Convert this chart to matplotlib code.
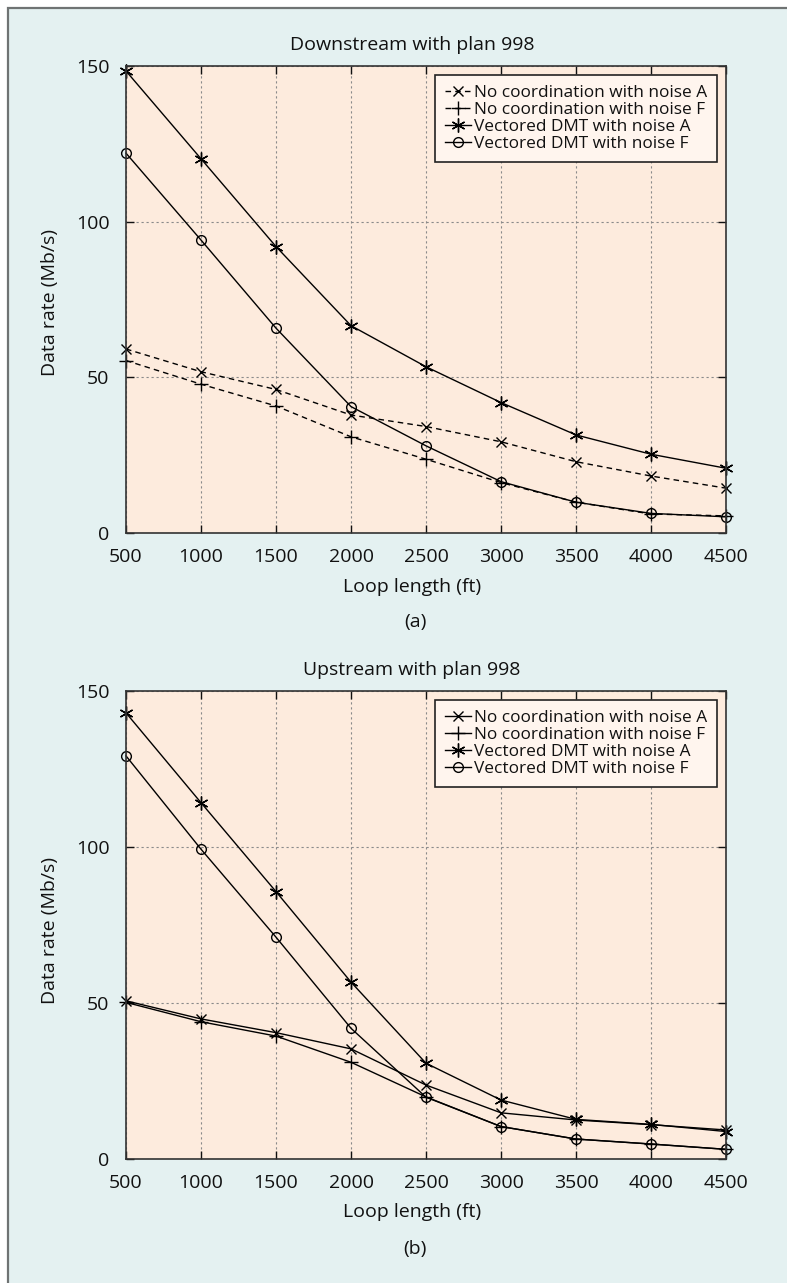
import matplotlib
matplotlib.use("Agg")
import matplotlib.pyplot as plt
from matplotlib.patches import Rectangle

plt.rcParams['font.family'] = ['Open Sans', 'DejaVu Sans']

loop_length = [500, 1000, 1500, 2000, 2500, 3000, 3500, 4000, 4500]
labels = ["No coordination with noise A", "No coordination with noise F",
          "Vectored DMT with noise A", "Vectored DMT with noise F"]

# Downstream (a)
down_nocoord_A = [59.1, 51.8, 46.1, 37.9, 34.2, 29.3, 22.9, 18.3, 14.4]
down_nocoord_F = [55.4, 47.8, 40.8, 30.9, 23.7, 16.2, 9.9, 6.1, 5.5]
down_vect_A = [148.4, 120.2, 92.0, 66.6, 53.4, 41.9, 31.5, 25.3, 20.8]
down_vect_F = [122.0, 94.1, 65.8, 40.6, 28.0, 16.5, 9.9, 6.3, 5.2]

# Upstream (b)
up_nocoord_A = [50.7, 44.9, 40.5, 35.3, 23.7, 14.8, 12.5, 11.0, 9.3]
up_nocoord_F = [50.2, 44.0, 39.4, 31.0, 19.9, 10.4, 6.4, 4.8, 3.1]
up_vect_A = [143.0, 114.2, 85.7, 56.7, 30.7, 18.9, 12.7, 11.1, 8.8]
up_vect_F = [129.2, 99.3, 71.1, 41.9, 19.8, 10.4, 6.4, 4.8, 3.1]

xticks = [500, 1000, 1500, 2000, 2500, 3000, 3500, 4000, 4500]
yticks = [0, 50, 100, 150]

W, H = 787, 1283
fig = plt.figure(figsize=(W / 100, H / 100), dpi=100)
fig.patch.set_facecolor('white')
fig.patches.append(Rectangle((8 / W, -0.01), 1.0, (H - 8) / H + 0.01, transform=fig.transFigure,
                             facecolor='#e4f1f1', edgecolor='#6f7373', linewidth=1.6, zorder=-10))

AX_FACE = '#fdebdd'
LEG_FACE = '#fff5ee'
TXT = '#111111'
ASTER = (6, 2, 0)
FS = 14


def make_axes(top_px, bot_px):
    left = 126 / W
    width = 600 / W
    bottom = 1 - bot_px / H
    height = (bot_px - top_px) / H
    return fig.add_axes([left, bottom, width, height])


def style_axes(ax, title, label_ypos, title_ypos, sub, sub_ypos, ylab_ypos, bot_px, top_px):
    hpx = bot_px - top_px
    ax.set_facecolor(AX_FACE)
    ax.set_xlim(500, 4500)
    ax.set_ylim(0, 150)
    ax.set_xticks(xticks)
    ax.set_yticks(yticks)
    ax.tick_params(direction='in', length=6, width=1, top=True, right=True,
                   labelsize=FS, colors=TXT)
    ax.tick_params(axis='x', pad=11)
    ax.tick_params(axis='y', pad=12)
    for s in ax.spines.values():
        s.set_color('#333333')
        s.set_linewidth(1.2)
    ax.grid(True, color='#8a8a8a', linestyle=(0, (2, 2.5)), linewidth=0.8)
    ax.set_axisbelow(True)
    ax.set_xlabel("Loop length (ft)", fontsize=FS, color=TXT)
    ax.set_ylabel("Data rate (Mb/s)", fontsize=FS, color=TXT)
    ax.xaxis.set_label_coords((412 - 126) / 600, (bot_px - label_ypos) / hpx)
    ax.xaxis.label.set_va('center')
    ax.yaxis.set_label_coords((50 - 126) / 600, (bot_px - ylab_ypos) / hpx)
    ax.yaxis.label.set_va('center')
    ax.text((412 - 126) / 600, (bot_px - title_ypos) / hpx, title, transform=ax.transAxes,
            ha='center', va='center', fontsize=FS, color=TXT)
    ax.text((415 - 126) / 600, (bot_px - sub_ypos) / hpx, sub, transform=ax.transAxes,
            ha='center', va='center', fontsize=FS, color=TXT)
    leg = ax.legend(loc='upper right', bbox_to_anchor=(0.985, 1 - 9 / hpx),
                    borderaxespad=0, fontsize=12.4, handlelength=1.5, handletextpad=0.15,
                    labelspacing=0.05, fancybox=False, framealpha=1, borderpad=0.6)
    for t in leg.get_texts():
        t.set_color(TXT)
    leg.get_frame().set_facecolor(LEG_FACE)
    leg.get_frame().set_edgecolor('#222222')
    leg.get_frame().set_linewidth(1.2)


common = dict(color='black', linewidth=1.0)

# Top: Downstream
top1, bot1 = 66, 533
ax1 = make_axes(top1, bot1)
ax1.plot(loop_length, down_nocoord_A, linestyle=(0, (4, 3)), marker='x', markersize=7,
         markeredgewidth=1.0, label=labels[0], **common)
ax1.plot(loop_length, down_nocoord_F, linestyle=(0, (4, 3)), marker='+', markersize=10,
         markeredgewidth=1.0, label=labels[1], **common)
ax1.plot(loop_length, down_vect_A, linestyle='-', marker=ASTER, markersize=10,
         markeredgewidth=1.0, label=labels[2], **common)
ax1.plot(loop_length, down_vect_F, linestyle='-', marker='o', markersize=7, markerfacecolor='none',
         markeredgewidth=1.0, label=labels[3], **common)
style_axes(ax1, "Downstream with plan 998", 587, 45, "(a)", 622, 303, bot1, top1)

# Bottom: Upstream
top2, bot2 = 691, 1159
ax2 = make_axes(top2, bot2)
ax2.plot(loop_length, up_nocoord_A, linestyle='-', marker='x', markersize=7,
         markeredgewidth=1.0, label=labels[0], **common)
ax2.plot(loop_length, up_nocoord_F, linestyle='-', marker='+', markersize=10,
         markeredgewidth=1.0, label=labels[1], **common)
ax2.plot(loop_length, up_vect_A, linestyle='-', marker=ASTER, markersize=10,
         markeredgewidth=1.0, label=labels[2], **common)
ax2.plot(loop_length, up_vect_F, linestyle='-', marker='o', markersize=7, markerfacecolor='none',
         markeredgewidth=1.0, label=labels[3], **common)
style_axes(ax2, "Upstream with plan 998", 1212, 670, "(b)", 1249, 930, bot2, top2)

for ax in (ax1, ax2):
    for line in ax.lines:
        line.set_clip_on(False)

fig.savefig("out.png", dpi=100)
